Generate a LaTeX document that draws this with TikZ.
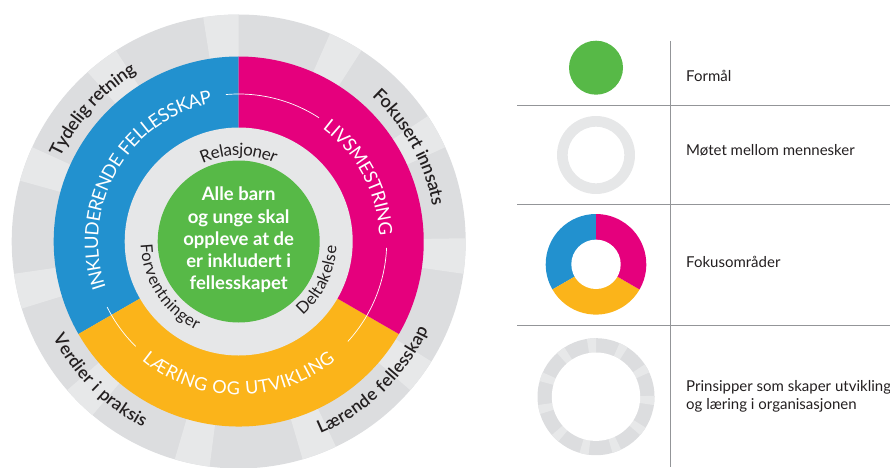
\documentclass[tikz,border=0pt]{standalone}
\usepackage{fontspec}
\setmainfont{Lato}
\newfontfamily\semifont{Lato Semibold}
\newfontfamily\semifontLS[LetterSpace=4]{Lato Semibold}
\newfontfamily\latoLS[LetterSpace=4]{Lato}
\usetikzlibrary{decorations.text}
\definecolor{blueF}{HTML}{2291CF}
\definecolor{magF}{HTML}{E5007D}
\definecolor{yelF}{HTML}{FBB41A}
\definecolor{greenF}{HTML}{57B947}
\definecolor{ringgray}{HTML}{E6E7E8}
\definecolor{outergray}{HTML}{DCDDDF}
\definecolor{stripegray}{HTML}{E7E8E9}
\definecolor{txt}{HTML}{231F20}
\definecolor{rule}{HTML}{939598}
\newcommand\ringlabfont{\fontsize{18.5}{20}\selectfont}
\newcommand\ringlabfontb{\latoLS\fontsize{18}{20}\selectfont}
\newcommand\outerlabfont{\semifont\fontsize{18}{20}\selectfont}
\newcommand\outerlabfontb{\semifontLS\fontsize{17.5}{20}\selectfont}
\newcommand\innerlabfont{\fontsize{17}{18}\selectfont}
\newcommand\innerlabfontb{\latoLS\fontsize{16.5}{18}\selectfont}
\tikzset{
  ringtext/.style={decorate,decoration={text along path,text align=center,
      text color=white,raise=-6.5pt,text={|\ringlabfont|#1}}},
  ringtextb/.style={decorate,decoration={text along path,text align=center,
      text color=white,raise=-6.5pt,text={|\ringlabfontb|#1}}},
  outertext/.style={decorate,decoration={text along path,text align=center,
      text color=txt,raise=-6pt,text={|\outerlabfont|#1}}},
  outertextb/.style={decorate,decoration={text along path,text align=center,
      text color=txt,raise=-6pt,text={|\outerlabfontb|#1}}},
  innertext/.style={decorate,decoration={text along path,text align=center,
      text color=txt,raise=-5pt,text={|\innerlabfont|#1}}},
  innertextb/.style={decorate,decoration={text along path,text align=center,
      text color=txt,raise=-5pt,text={|\innerlabfontb|#1}}},
  whitearc/.style={draw=white,line width=0.7pt},
  legendtext/.style={anchor=west,align=left,text=txt,font=\fontsize{15}{18.3}\selectfont,inner sep=0pt},
  legendrule/.style={draw=rule,line width=0.9pt}
}
\begin{document}
\begin{tikzpicture}[x=1pt,y=1pt]
\useasboundingbox (0,0) rectangle (890,467);
% ---------------- main wheel
\begin{scope}[shift={(238.7,225.5)}]
  \fill[outergray] (0,0) circle[radius=227];
  \foreach \k in {0,...,10} {
    \pgfmathsetmacro\a{90+\k*360/11}
    \pgfmathsetmacro\b{\a+9}
    \fill[stripegray] (0,0) -- (\a:227) arc[start angle=\a,end angle=\b,radius=227] -- cycle;
  }
  \fill[blueF] (0,0) -- (90:185) arc[start angle=90,end angle=210,radius=185] -- cycle;
  \fill[yelF] (0,0) -- (210:185) arc[start angle=210,end angle=330,radius=185] -- cycle;
  \fill[magF] (0,0) -- (330:185) arc[start angle=330,end angle=450,radius=185] -- cycle;
  \fill[ringgray] (0,0) circle[radius=114];
  \fill[greenF] (0,0) circle[radius=81];
  % white connecting arcs
  \draw[whitearc] (95:147.5) arc[start angle=95,end angle=57,radius=147.5];
  \draw[whitearc] (-2.5:148) arc[start angle=-2.5,end angle=-42.5,radius=148];
  \draw[whitearc] (225.5:147) arc[start angle=225.5,end angle=206.5,radius=147];
  % ring labels
  \path[ringtext={INKLUDERENDE FELLESSKAP}] (240:147) arc[start angle=240,end angle=60,radius=147];
  \path[ringtext={LIVSMESTRING}] (100:147) arc[start angle=100,end angle=-44,radius=147];
  \path[ringtextb={LÆRING OG UTVIKLING}] (190:147) arc[start angle=190,end angle=350,radius=147];
  % inner ring labels
  \path[innertext={Relasjoner}] (150:91) arc[start angle=150,end angle=30,radius=91];
  \path[innertextb={Forventninger}] (153:93) arc[start angle=153,end angle=273,radius=93];
  \path[innertextb={Deltakelse}] (274:93) arc[start angle=274,end angle=394,radius=93];
  % outer labels
  \path[outertext={Tydelig retning}] (198:203) arc[start angle=198,end angle=78,radius=203];
  \path[outertext={Fokusert innsats}] (89:203) arc[start angle=89,end angle=-31,radius=203];
  \path[outertextb={Verdier i praksis}] (165:203) arc[start angle=165,end angle=285,radius=203];
  \path[outertextb={Lærende fellesskap}] (254:203) arc[start angle=254,end angle=374,radius=203];
  % purpose
  \node[text=white,align=center,font=\bfseries\fontsize{18.5}{22.3}\selectfont,inner sep=0pt] (purpose) at (0,1.5)
    {Alle barn\\og unge skal\\oppleve at de\\er inkludert i\\fellesskapet};
\end{scope}
% ---------------- legend
\draw[legendrule] (670,426) -- (670,0);
\draw[legendrule] (517,361.3) -- (890,361.3);
\draw[legendrule] (517,263) -- (890,263);
\draw[legendrule] (517,142) -- (890,142);
\fill[greenF] (596,399.3) circle[radius=27];
\fill[ringgray,even odd rule] (596,312) circle[radius=39] circle[radius=28.3];
\begin{scope}[shift={(596,202.7)}]
  \fill[blueF] (0,0) -- (90:50.3) arc[start angle=90,end angle=210,radius=50.3] -- cycle;
  \fill[yelF] (0,0) -- (210:50.3) arc[start angle=210,end angle=330,radius=50.3] -- cycle;
  \fill[magF] (0,0) -- (330:50.3) arc[start angle=330,end angle=450,radius=50.3] -- cycle;
  \fill[white] (0,0) circle[radius=24.7];
\end{scope}
\begin{scope}[shift={(596,70.3)}]
  \fill[outergray] (0,0) circle[radius=58.5];
  \foreach \k in {0,...,10} {
    \pgfmathsetmacro\a{90+\k*360/11}
    \pgfmathsetmacro\b{\a+9}
    \fill[stripegray] (0,0) -- (\a:58.5) arc[start angle=\a,end angle=\b,radius=58.5] -- cycle;
  }
  \fill[white] (0,0) circle[radius=44.2];
\end{scope}
\node[legendtext] (l1) at (686,391) {Formål};
\node[legendtext] (l2) at (686,316.5) {Møtet mellom mennesker};
\node[legendtext] (l3) at (686,205) {Fokusområder};
\node[legendtext] (l4) at (686,71) {Prinsipper som skaper utvikling\\og læring i organisasjonen};
\end{tikzpicture}
\end{document}
